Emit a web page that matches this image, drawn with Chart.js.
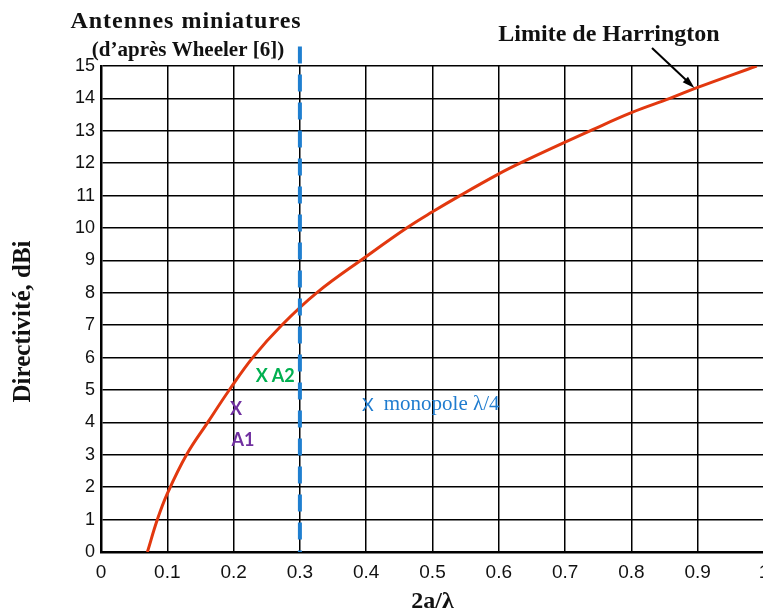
<!DOCTYPE html>
<html>
<head>
<meta charset="utf-8">
<script src="https://cdn.jsdelivr.net/npm/chart.js@4"></script>
<style>
  html, body { margin: 0; padding: 0; background: #fff; overflow: hidden; }
  #wrap { width: 780px; height: 611px; }
</style>
</head>
<body>
<div id="wrap"><canvas id="chart_1"></canvas></div>
<script>
// Harrington limit curve
const ratio = [0.07, 0.085, 0.1, 0.129, 0.161, 0.1935, 0.2288, 0.2725, 0.3253, 0.4, 0.461, 0.5, 0.5415, 0.6, 0.632, 0.7, 0.7376, 0.8, 0.858, 0.9, 0.989]
const directivite = [0, 1, 1.8, 3, 4, 5, 6, 7, 8, 9.12, 10, 10.5, 11, 11.67, 12, 12.65, 13, 13.56, 14, 14.34, 15]

// vertical dashed line at 2a/lambda = 0.3
const limiteX = [0.3, 0.3]
const limiteY = [15.6, 0]

// antenna markers
const antennes = ['A1', 'A2', 'monopole λ/4']
const antX = [0.2036, 0.2424, 0.4023]
const antY = [4.41, 5.42, 4.54]

const xTicks = [0, 0.1, 0.2, 0.3, 0.4, 0.5, 0.6, 0.7, 0.8, 0.9, 1]
const yTicks = [0, 1, 2, 3, 4, 5, 6, 7, 8, 9, 10, 11, 12, 13, 14, 15]

const serif = '"Liberation Serif", "Times New Roman", serif'
const sans = '"Liberation Sans", Arial, sans-serif'

const textes = {
  id: 'textes',
  afterDatasetsDraw(chart) {
    const ctx = chart.ctx
    const sx = chart.scales.x, sy = chart.scales.y
    ctx.save()
    ctx.textBaseline = 'middle'
    // titles
    ctx.fillStyle = '#111'
    ctx.textAlign = 'center'
    ctx.font = 'bold 24px ' + serif
    ctx.letterSpacing = '1px'
    ctx.fillText('Antennes miniatures', 186, 22)
    ctx.letterSpacing = '0px'
    ctx.font = 'bold 21px ' + serif
    ctx.fillText('(d\u2019après Wheeler [6])', 188, 51)
    ctx.font = 'bold 24px ' + serif
    ctx.fillText('Limite de Harrington', 609, 35)

    // arrow to the curve
    const x0 = 652, y0 = 48
    const x1 = sx.getPixelForValue(0.895), y1 = sy.getPixelForValue(14.32)
    ctx.strokeStyle = '#000'
    ctx.fillStyle = '#000'
    ctx.lineWidth = 2
    ctx.beginPath(); ctx.moveTo(x0, y0); ctx.lineTo(x1 - 4, y1 - 4); ctx.stroke()
    const a = Math.atan2(y1 - y0, x1 - x0)
    ctx.beginPath()
    ctx.moveTo(x1, y1)
    ctx.lineTo(x1 - 13 * Math.cos(a - 0.3), y1 - 13 * Math.sin(a - 0.3))
    ctx.lineTo(x1 - 13 * Math.cos(a + 0.3), y1 - 13 * Math.sin(a + 0.3))
    ctx.closePath(); ctx.fill()

    // markers
    let px = sx.getPixelForValue(antX[0]), py = sy.getPixelForValue(antY[0])
    ctx.fillStyle = '#7030a0'
    ctx.font = 'bold 18px Lato, ' + sans
    ctx.textAlign = 'center'
    ctx.fillText('X', px, py)
    ctx.fillText(antennes[0], px + 7, py + 31)

    px = sx.getPixelForValue(antX[1]); py = sy.getPixelForValue(antY[1])
    ctx.fillStyle = '#00b050'
    ctx.fillText('X', px, py)
    ctx.textAlign = 'left'
    ctx.fillText(antennes[1], px + 10, py)

    px = sx.getPixelForValue(antX[2]); py = sy.getPixelForValue(antY[2])
    ctx.fillStyle = '#1f7ccf'
    ctx.font = '18px Lato, ' + sans
    ctx.textAlign = 'center'
    ctx.fillText('X', px, py)
    ctx.textAlign = 'left'
    ctx.font = '21px ' + serif
    ctx.fillText(antennes[2], px + 16, py)
    ctx.restore()
  }
}

const ctx = document.getElementById('chart_1')
const data = {
  datasets: [{
    label: 'Limite de Harrington',
    data: ratio.map((v, i) => ({x: v, y: directivite[i]})),
    borderColor: '#e2380f',
    borderWidth: 3,
    pointRadius: 0,
    tension: 0.4,
    order: 1
  }, {
    label: '2a/λ = 0.3',
    data: limiteX.map((v, i) => ({x: v, y: limiteY[i]})),
    borderColor: '#1f7fd0',
    borderWidth: 4,
    borderDash: [17, 11],
    pointRadius: 0,
    clip: false,
    order: 0
  }]
}
const config = {
  type: 'line',
  data: data,
  options: {
    responsive: true,
    maintainAspectRatio: false,
    animation: false,
    layout: {padding: {top: 66, right: 16, left: 0, bottom: 0}},
    plugins: {
      legend: {display: false},
      tooltip: {enabled: false}
    },
    scales: {
      x: {
        type: 'linear',
        min: 0, max: 1,
        afterBuildTicks: s => { s.ticks = xTicks.map(v => ({value: v})) },
        afterFit: s => { s.height = 59 },
        grid: {color: '#000', lineWidth: 1.5, drawTicks: false},
        border: {color: '#000', width: 2.5},
        ticks: {color: '#111', font: {family: sans, size: 19}, padding: 9, maxRotation: 0, callback: v => String(v)},
        title: {display: true, text: '2a/λ', color: '#111', font: {family: serif, size: 24, weight: 'bold'}, padding: {top: 0, bottom: -5}}
      },
      y: {
        type: 'linear',
        min: 0, max: 15,
        afterBuildTicks: s => { s.ticks = yTicks.map(v => ({value: v})) },
        afterFit: s => { s.width = 101 },
        grid: {color: '#000', lineWidth: 1.5, drawTicks: false},
        border: {color: '#000', width: 2.5},
        ticks: {color: '#111', font: {family: sans, size: 18}, padding: 6, callback: v => String(v)},
        title: {display: true, text: 'Directivité, dBi\u00a0\u00a0\u00a0\u00a0', color: '#111', font: {family: serif, size: 25, weight: 'bold'}, padding: {top: 9, bottom: 0}}
      }
    }
  },
  plugins: [textes]
}
new Chart(ctx, config)
</script>
</body>
</html>
